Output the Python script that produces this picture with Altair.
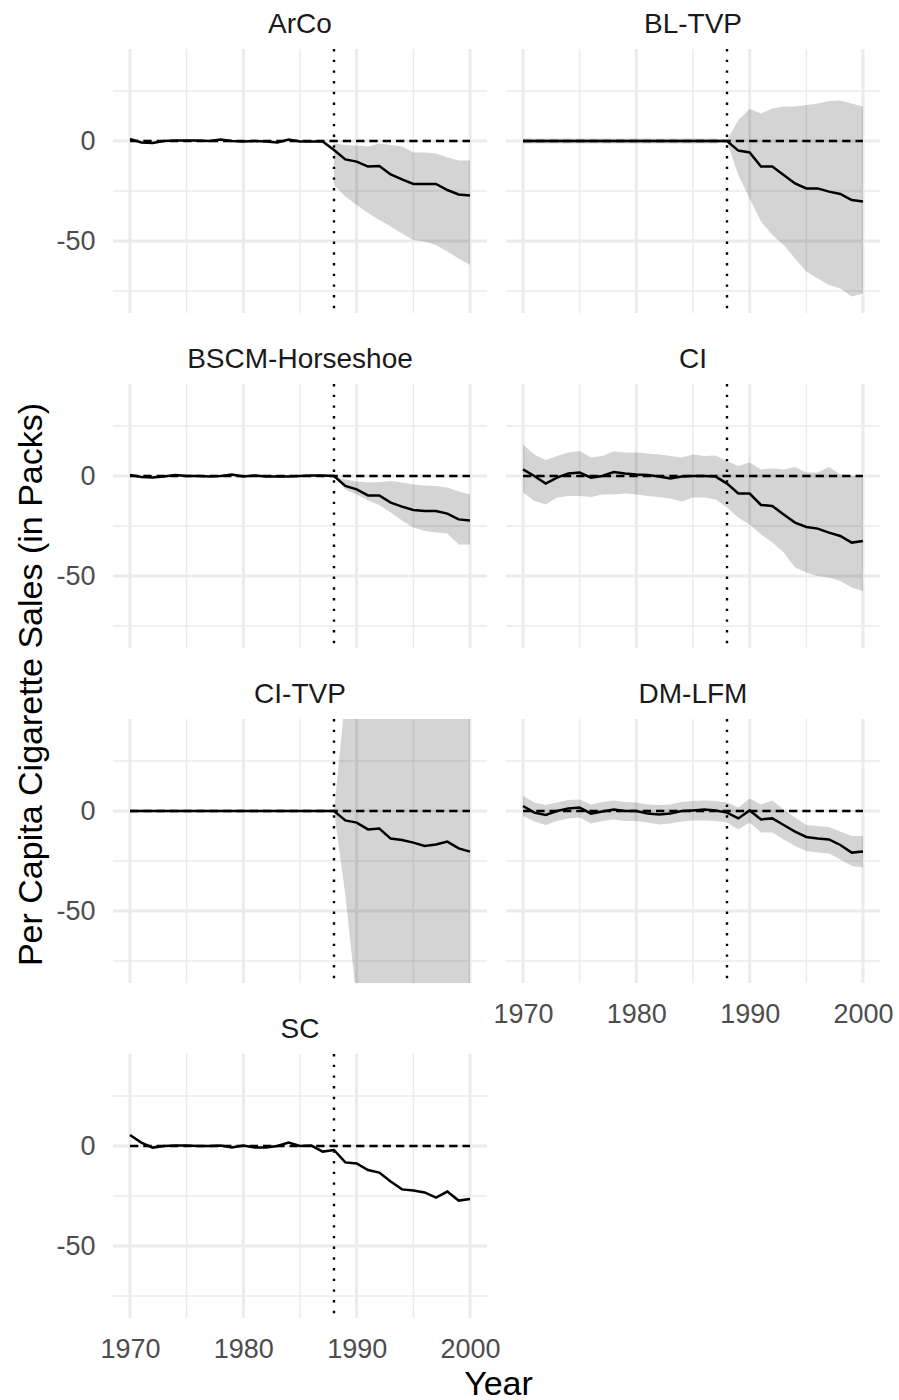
import altair as alt
import pandas as pd

# ---------------- data ----------------
YEARS = list(range(1970, 2001))
TREATMENT_YEAR = 1988
REFERENCE = 0

ARCO_GAP = [1.0, -0.7, -1.0, 0.0, 0.3, 0.3, 0.3, 0.0, 0.7, 0.0, -0.3, 0.0, -0.3, -0.7, 0.7, -0.3,
            -0.3, -0.3, -4.5, -9.2, -10.3, -12.8, -12.5, -16.7, -19.2, -21.5, -21.5, -21.5, -24.5,
            -26.7, -27.3]
ARCO_HI = [None] * 18 + [-1.2, -2.0, -2.3, -2.8, -1.2, -2.0, -2.8, -5.7, -5.8, -6.2, -8.3, -9.8, -9.8]
ARCO_LO = [None] * 18 + [-22.0, -27.8, -32.0, -36.0, -39.5, -42.8, -46.2, -49.5, -50.3, -52.0,
                         -55.3, -58.7, -62.0]

BLTVP_GAP = [0.0] * 19 + [-4.8, -5.7, -12.8, -12.8, -17.0, -21.2, -23.7, -23.7, -25.3, -26.5,
                          -29.5, -30.3]
BLTVP_HI = [1.2] * 18 + [0.5, 10.5, 16.0, 13.8, 16.3, 17.2, 17.2, 18.0, 18.8, 20.0, 20.2, 18.8, 17.2]
BLTVP_LO = [-1.2] * 18 + [-0.5, -17.0, -28.7, -40.3, -47.0, -52.0, -58.7, -65.3, -68.7, -72.0,
                          -73.7, -77.8, -76.2]

BSCM_GAP = [0.5, -0.5, -0.7, -0.2, 0.5, 0.0, 0.0, -0.2, 0.0, 0.8, -0.2, 0.2, -0.2, -0.3, -0.3, 0.0,
            0.3, 0.2, 0.0, -5.0, -6.7, -9.7, -9.7, -13.3, -15.3, -17.0, -17.5, -17.5, -18.8, -21.7,
            -22.2]
BSCM_HI = [None] * 18 + [0.0, -1.7, -2.8, -3.3, -3.0, -2.5, -3.3, -4.2, -4.7, -5.0, -5.8, -7.8, -9.2]
BSCM_LO = [None] * 18 + [0.0, -6.7, -9.2, -12.2, -14.5, -18.3, -22.2, -25.8, -27.5, -28.3, -28.8,
                         -34.2, -34.2]

CI_GAP = [3.3, 0.0, -3.8, -0.8, 1.3, 1.7, -0.8, 0.0, 2.0, 1.3, 0.8, 0.5, -0.2, -1.2, -0.2, 0.0, 0.0,
          -0.3, -3.8, -8.7, -8.8, -14.5, -15.0, -19.2, -23.3, -25.5, -26.3, -28.3, -30.0, -33.3,
          -32.5]
CI_HI = [15.8, 10.8, 8.0, 10.0, 11.7, 12.5, 9.2, 10.0, 12.2, 11.7, 11.7, 11.2, 10.8, 10.0, 9.2, 10.8,
         10.0, 10.3, 7.5, 5.0, 6.7, 3.3, 3.8, 3.3, 4.5, 1.7, 1.7, 4.5, 0.8, 0.0, 0.0]
CI_LO = [-8.3, -12.5, -14.2, -10.8, -10.0, -10.0, -10.5, -9.2, -9.2, -8.8, -9.2, -10.0, -10.5, -11.3,
         -12.8, -10.8, -10.8, -11.7, -15.8, -20.8, -24.2, -29.2, -33.3, -38.3, -45.8, -48.3, -50.0,
         -50.8, -52.5, -55.8, -57.5]

CITVP_GAP = [0.0] * 19 + [-4.7, -5.8, -9.2, -8.8, -13.8, -14.5, -15.8, -17.5, -16.7, -15.3, -18.7,
                          -20.3]
CITVP_HI = [None] * 18 + [0.0, 57.0, 110.0, 150.0, 150.0, 150.0, 150.0, 150.0, 150.0, 150.0, 150.0,
                          150.0, 150.0]
CITVP_LO = [None] * 18 + [0.0, -42.0, -95.0, -200.0, -200.0, -200.0, -200.0, -200.0, -200.0, -200.0,
                          -200.0, -200.0, -200.0]

DMLFM_GAP = [2.5, -0.8, -2.0, 0.0, 1.3, 1.7, -1.3, -0.3, 0.8, 0.0, 0.0, -1.3, -1.7, -1.3, 0.0, 0.3,
             0.7, 0.3, -0.8, -3.7, 0.3, -4.2, -3.7, -7.0, -10.3, -13.0, -13.7, -14.2, -17.0, -20.8,
             -20.3]
DMLFM_HI = [7.5, 4.2, 3.0, 4.2, 5.5, 5.8, 3.3, 4.5, 5.3, 4.5, 4.2, 3.3, 3.0, 3.3, 4.5, 5.0, 5.3, 5.0,
            4.2, 1.7, 6.3, 3.3, 5.3, 0.8, -3.3, -7.0, -7.5, -8.0, -10.3, -12.5, -12.5]
DMLFM_LO = [-2.5, -5.3, -7.0, -5.0, -3.7, -3.3, -6.3, -5.0, -4.2, -5.0, -5.0, -5.8, -6.7, -6.3, -5.3,
            -4.7, -4.7, -5.0, -5.8, -9.2, -5.8, -10.8, -10.8, -14.2, -17.5, -20.0, -20.8, -21.3,
            -24.2, -27.5, -28.3]

SC_GAP = [5.5, 1.7, -0.8, 0.0, 0.2, 0.3, 0.0, 0.0, 0.2, -0.7, 0.3, -0.7, -0.8, 0.0, 1.7, 0.0, 0.2,
          -2.8, -2.0, -8.2, -8.7, -12.0, -13.3, -17.8, -21.7, -22.3, -23.2, -25.8, -22.8, -27.3,
          -26.5]
SC_HI = [None] * 31
SC_LO = [None] * 31

SERIES = {
    "ArCo": (ARCO_GAP, ARCO_LO, ARCO_HI),
    "BL-TVP": (BLTVP_GAP, BLTVP_LO, BLTVP_HI),
    "BSCM-Horseshoe": (BSCM_GAP, BSCM_LO, BSCM_HI),
    "CI": (CI_GAP, CI_LO, CI_HI),
    "CI-TVP": (CITVP_GAP, CITVP_LO, CITVP_HI),
    "DM-LFM": (DMLFM_GAP, DMLFM_LO, DMLFM_HI),
    "SC": (SC_GAP, SC_LO, SC_HI),
}

X_TICKS = [1970, 1980, 1990, 2000]
X_MINOR = [1975, 1985, 1995]
Y_TICKS = [0, -50]
Y_MINOR = [25, -25, -75]
X_DOMAIN = [1968.5, 2001.5]
Y_DOMAIN = [-86, 46]

rows = []
for name, (gap, lo, hi) in SERIES.items():
    for yr, g, l, h in zip(YEARS, gap, lo, hi):
        rows.append({"region": name, "year": yr, "gap": g, "lo": l, "hi": h})
df = pd.DataFrame(rows)

FONT = "Liberation Sans"
W, H = 374, 264

xs = alt.Scale(domain=X_DOMAIN, nice=False, zero=False)
ys = alt.Scale(domain=Y_DOMAIN, nice=False, zero=False)


def panel(name, show_x=False, show_y=False, xtitle=None, ytitle=None):
    sub = df[df["region"] == name]
    if show_x:
        xkw = dict(values=X_TICKS, grid=False, ticks=False, tickSize=0, domain=False,
                   labelFontSize=27, labelColor="#4d4d4d", labelPadding=18, labelFont=FONT,
                   labelExpr="'' + datum.value")
        if xtitle:
            xkw.update(title=xtitle, titleFontSize=34, titleColor="#000000", titleFontWeight="normal",
                       titleFont=FONT, titleX=385, titleY=76, titleBaseline="alphabetic",
                       titleAlign="center")
        else:
            xkw.update(title=None)
        x_axis = alt.Axis(**xkw)
    else:
        x_axis = None
    if show_y:
        ykw = dict(values=Y_TICKS, grid=False, ticks=False, tickSize=0, domain=False,
                   labelFontSize=27, labelColor="#4d4d4d", labelPadding=18, labelFont=FONT,
                   labelExpr="'' + datum.value")
        if ytitle:
            ykw.update(title=ytitle, titleFontSize=34, titleColor="#000000", titleFontWeight="normal",
                       titleFont=FONT, titleX=-72, titleY=300, titleAngle=270,
                       titleBaseline="alphabetic", titleAlign="center")
        else:
            ykw.update(title=None)
        y_axis = alt.Axis(**ykw)
    else:
        y_axis = None

    def X(field):
        return alt.X(field, type="quantitative", scale=xs, axis=x_axis)

    def Y(field):
        return alt.Y(field, type="quantitative", scale=ys, axis=y_axis)

    gx_minor = alt.Chart(pd.DataFrame({"g": X_MINOR})).mark_rule(
        color="#ebebeb", strokeWidth=1.5).encode(x=X("g"))
    gx_major = alt.Chart(pd.DataFrame({"g": X_TICKS})).mark_rule(
        color="#ebebeb", strokeWidth=3).encode(x=X("g"))
    gy_minor = alt.Chart(pd.DataFrame({"g": Y_MINOR})).mark_rule(
        color="#ebebeb", strokeWidth=1.5).encode(y=Y("g"))
    gy_major = alt.Chart(pd.DataFrame({"g": Y_TICKS})).mark_rule(
        color="#ebebeb", strokeWidth=3).encode(y=Y("g"))

    ribbon = alt.Chart(sub).mark_area(color="#000000", opacity=0.17, clip=True).encode(
        x=X("year"), y=Y("lo"), y2="hi")
    line = alt.Chart(sub).mark_line(color="#000000", strokeWidth=2.5).encode(
        x=X("year"), y=Y("gap"))
    ref = alt.Chart(pd.DataFrame({"x": [YEARS[0]], "x2": [YEARS[-1]], "y": [REFERENCE]})).mark_rule(
        color="#000000", strokeWidth=2.3, strokeDash=[8.3, 5]).encode(x=X("x"), x2="x2", y=Y("y"))
    vline = alt.Chart(pd.DataFrame({"t": [TREATMENT_YEAR]})).mark_rule(
        color="#000000", strokeWidth=2.4, strokeDash=[2.4, 8.3]).encode(x=X("t"))

    return alt.layer(gx_minor, gx_major, gy_minor, gy_major, ribbon, line, ref, vline).properties(
        width=W, height=H,
        title=alt.TitleParams(name, fontSize=28, color="#1a1a1a", fontWeight="normal", font=FONT,
                              baseline="alphabetic", offset=-13, anchor="middle"))


panels = [
    panel("ArCo", show_y=True),
    panel("BL-TVP"),
    panel("BSCM-Horseshoe", show_y=True, ytitle="Per Capita Cigarette Sales (in Packs)"),
    panel("CI"),
    panel("CI-TVP", show_y=True),
    panel("DM-LFM", show_x=True),
    panel("SC", show_x=True, show_y=True, xtitle="Year"),
]

chart = alt.concat(*panels, columns=2, spacing={"row": 71, "column": 19}, bounds="flush").configure(
    font=FONT, padding={"left": 13, "top": 10, "right": 0, "bottom": 0}
).configure_view(strokeWidth=0)

chart.save("out.html", embed_options={"renderer": "svg", "actions": False})
